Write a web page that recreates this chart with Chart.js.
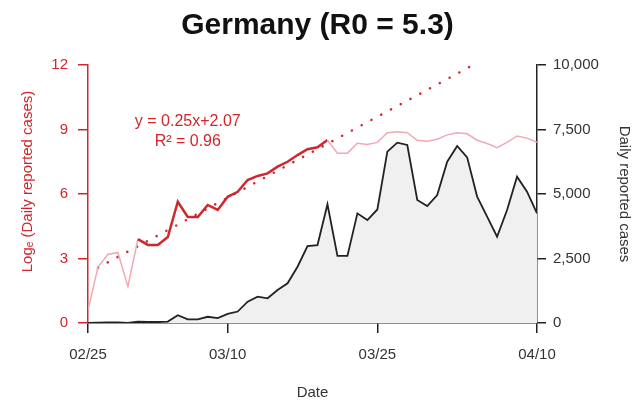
<!DOCTYPE html>
<html><head><meta charset="utf-8">
<script src="https://cdn.jsdelivr.net/npm/chart.js@4"></script>
<style>html,body{margin:0;padding:0;background:#fff}</style>
</head><body>
<canvas id="c" width="635" height="404"></canvas>
<script>
// ---- data ----
const dates = ["02/25","02/26","02/27","02/28","02/29","03/01","03/02","03/03","03/04","03/05","03/06","03/07","03/08","03/09","03/10","03/11","03/12","03/13","03/14","03/15","03/16","03/17","03/18","03/19","03/20","03/21","03/22","03/23","03/24","03/25","03/26","03/27","03/28","03/29","03/30","03/31","04/01","04/02","04/03","04/04","04/05","04/06","04/07","04/08","04/09","04/10"];
const dailyCases = [2,13,25,26,5,49,38,38,55,300,138,138,242,192,354,445,826,1020,957,1280,1540,2180,2985,3020,4600,2600,2600,4250,3990,4400,6640,6990,6900,4770,4535,4960,6250,6860,6420,4900,4120,3345,4380,5670,5090,4250];
const logCases = [0.6,2.6,3.2,3.27,1.7,3.9,3.63,3.63,4.0,5.64,4.93,4.93,5.49,5.26,5.87,6.1,6.65,6.84,6.96,7.27,7.5,7.81,8.08,8.17,8.51,7.9,7.9,8.36,8.3,8.4,8.85,8.9,8.85,8.5,8.45,8.55,8.75,8.85,8.8,8.5,8.35,8.15,8.4,8.7,8.6,8.4];
const fitStart = "03/01";
const fitEnd = "03/20";
const trendDays = [1, 38.6];
const trendValues = [2.57, 12.0];
const xTickLabels = ["02/25","03/10","03/25","04/10"];
const leftTicks = [0,3,6,9,12];
const rightTicks = [0,2500,5000,7500,10000];
const fitText = ["y = 0.25x+2.07", "R\u00B2 = 0.96"];

// ---- style ----
const RED = '#d1262c';
const PINK = '#f2a8b4';
const FONT = "'Liberation Sans', Arial, 'DejaVu Sans', sans-serif";
const fs = 15;
const i0 = dates.indexOf(fitStart), i1 = dates.indexOf(fitEnd);
const inFit = c => c.p0DataIndex >= i0 && c.p1DataIndex <= i1;

const fitLabel = {
  id: 'fitLabel',
  afterDatasetsDraw(chart) {
    const {ctx, scales} = chart;
    const x = scales.x.getPixelForValue(10);
    ctx.save();
    ctx.fillStyle = RED;
    ctx.font = "16px " + FONT;
    ctx.textAlign = 'center';
    ctx.textBaseline = 'middle';
    ctx.fillText(fitText[0], x, scales.yL.getPixelForValue(9.35));
    ctx.fillText(fitText[1], x, scales.yL.getPixelForValue(8.42));
    ctx.restore();
  }
};

new Chart(document.getElementById('c'), {
  type: 'line',
  data: {
    datasets: [
      {
        data: trendDays.map((d, i) => ({x: d, y: trendValues[i]})),
        yAxisID: 'yL', borderColor: RED, borderWidth: 2.5, borderDash: [0.1, 11],
        borderCapStyle: 'round', pointRadius: 0, fill: false, order: 1
      },
      {
        data: dates.map((d, i) => ({x: i, y: logCases[i]})),
        yAxisID: 'yL', borderColor: PINK, borderWidth: 1.5, pointRadius: 0, fill: false,
        segment: { borderColor: c => inFit(c) ? RED : PINK, borderWidth: c => inFit(c) ? 2.5 : 1.5 },
        order: 0
      },
      {
        data: dates.map((d, i) => ({x: i, y: dailyCases[i]})),
        yAxisID: 'yR', borderColor: '#222', borderWidth: 1.8, backgroundColor: '#f0f0f0',
        fill: 'origin', pointRadius: 0, order: 2
      }
    ]
  },
  options: {
    responsive: false, animation: false, devicePixelRatio: 1,
    layout: { padding: 0 },
    plugins: {
      legend: { display: false }, tooltip: { enabled: false },
      title: { display: true, text: 'Germany (R0 = 5.3)', color: '#111',
        font: { family: FONT, size: 30, weight: 'bold' }, padding: { top: 8, bottom: 21 } }
    },
    scales: {
      x: {
        type: 'linear', min: 0, max: dates.length - 1, position: 'bottom',
        afterBuildTicks: s => { s.ticks = xTickLabels.map(l => ({value: dates.indexOf(l)})); },
        afterFit: s => { s.height = 81; },
        ticks: { callback: v => dates[v], color: '#333', font: {family: FONT, size: fs}, padding: 13, maxRotation: 0, autoSkip: false },
        grid: { display: true, drawOnChartArea: false, drawTicks: true, tickLength: 10, color: '#222', lineWidth: 1.5 },
        border: { display: true, color: '#222', width: 1.5 },
        title: { display: true, text: 'Date', color: '#333', font: {family: FONT, size: fs}, padding: {top: 0, bottom: 2} }
      },
      yL: {
        position: 'left', min: 0, max: 12,
        afterBuildTicks: s => { s.ticks = leftTicks.map(v => ({value: v})); },
        afterFit: s => { s.width = 88; },
        ticks: { color: RED, font: {family: FONT, size: fs}, padding: 10 },
        grid: { drawOnChartArea: false, tickLength: 10, color: RED, lineWidth: 1.5 },
        border: { display: true, color: RED, width: 1.5 },
        title: { display: true, text: '      Log\u2091 (Daily reported cases)', color: RED, font: {family: FONT, size: fs}, padding: {top: 19, bottom: 0} }
      },
      yR: {
        position: 'right', min: 0, max: 10000,
        afterBuildTicks: s => { s.ticks = rightTicks.map(v => ({value: v})); },
        afterFit: s => { s.width = 98; },
        ticks: { color: '#333', font: {family: FONT, size: fs}, padding: 7, callback: v => v.toLocaleString('en-US') },
        grid: { drawOnChartArea: false, tickLength: 9, color: '#222', lineWidth: 1.5 },
        border: { display: true, color: '#222', width: 1.5 },
        title: { display: true, text: 'Daily reported cases', color: '#333', font: {family: FONT, size: fs}, padding: {top: 2, bottom: 0} }
      }
    }
  },
  plugins: [fitLabel]
});
</script>
</body></html>
